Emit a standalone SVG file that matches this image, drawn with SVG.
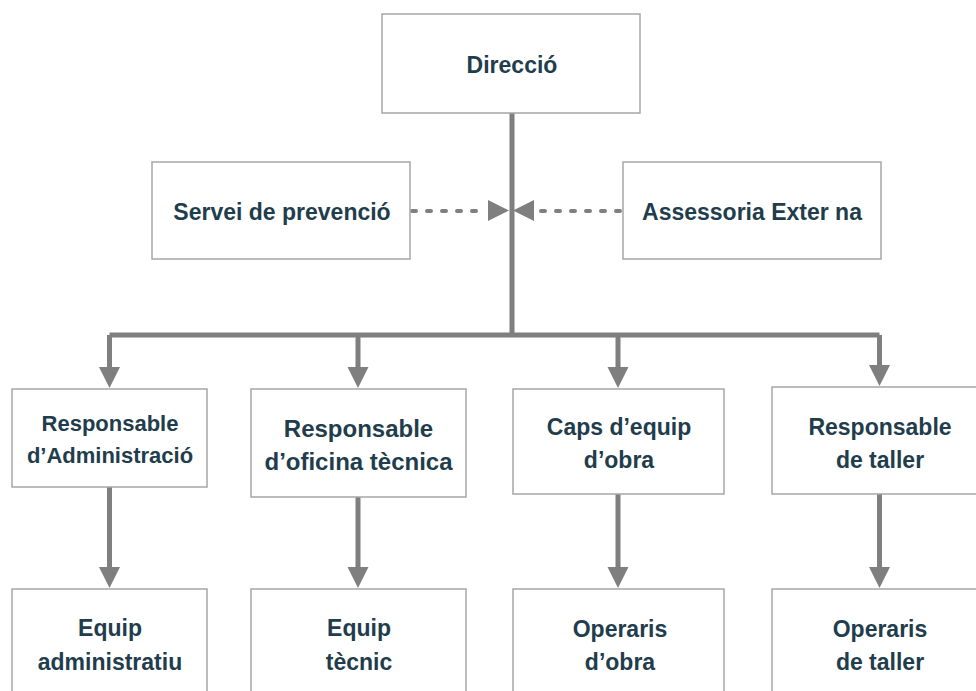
<svg xmlns="http://www.w3.org/2000/svg" width="976" height="691" viewBox="0 0 976 691">
<defs>
<style>
.box{fill:#ffffff;stroke:#a6a6a6;stroke-width:1.5}
.t{font-family:"Liberation Sans",Arial,sans-serif;font-weight:bold;font-size:23px;fill:#1f3d4c;text-anchor:middle}
.s22{font-size:22px}
.s24{font-size:24px}
.solid{fill:none;stroke:#7f7f7f;stroke-width:5}
.dash{fill:none;stroke:#7f7f7f;stroke-width:4;stroke-dasharray:4 11;stroke-linecap:round}
.head{fill:#7f7f7f}
</style>
</defs>
<rect width="976" height="691" fill="#ffffff"/>
<g id="connectors">
<path class="solid" d="M512 113 V335 M109.5 335 H879.5 M109.5 335 V370 M358 335 V370 M618 335 V370 M879.5 335 V368"/>
<polygon class="head" points="99,367 120,367 109.5,388"/>
<polygon class="head" points="347.5,367 368.5,367 358,388"/>
<polygon class="head" points="607.5,367 628.5,367 618,388"/>
<polygon class="head" points="869,365 890,365 879.5,386"/>
<path class="solid" d="M109.5 487 V569 M358 497 V569 M618 494 V569 M879.5 494 V569"/>
<polygon class="head" points="99,567 120,567 109.5,588"/>
<polygon class="head" points="347.5,567 368.5,567 358,588"/>
<polygon class="head" points="607.5,567 628.5,567 618,588"/>
<polygon class="head" points="869,567 890,567 879.5,588"/>
<path class="dash" d="M412 211 H482"/>
<polygon class="head" points="488,200 488,221 509,210.5"/>
<path class="dash" d="M620 211 H540"/>
<polygon class="head" points="534,200 534,221 513,210.5"/>
</g>
<g id="direccio"><rect class="box" x="382" y="14" width="258" height="99"/><text class="t" x="512" y="73">Direcció</text></g>
<g id="servei"><rect class="box" x="152" y="162" width="258" height="97"/><text class="t" x="282" y="220">Servei de prevenció</text></g>
<g id="assessoria"><rect class="box" x="623" y="162" width="258" height="97"/><text class="t" x="752" y="220">Assessoria Exter na</text></g>
<g id="resp-admin"><rect class="box" x="12" y="389" width="195" height="98"/><text class="t s22" x="110" y="431">Responsable</text><text class="t s22" x="110" y="463">d’Administració</text></g>
<g id="resp-oficina"><rect class="box" x="251" y="389" width="215" height="108"/><text class="t s24" x="358.5" y="437">Responsable</text><text class="t s24" x="358.5" y="470">d’oficina tècnica</text></g>
<g id="caps-equip"><rect class="box" x="513" y="389" width="211" height="105"/><text class="t" x="619" y="435">Caps d’equip</text><text class="t" x="619" y="468">d’obra</text></g>
<g id="resp-taller"><rect class="box" x="772" y="387" width="216" height="107"/><text class="t" x="880" y="435">Responsable</text><text class="t" x="880" y="468">de taller</text></g>
<g id="equip-admin"><rect class="box" x="12" y="589" width="195" height="120"/><text class="t" x="110" y="636">Equip</text><text class="t" x="110" y="670">administratiu</text></g>
<g id="equip-tecnic"><rect class="box" x="251" y="589" width="215" height="120"/><text class="t" x="359" y="636">Equip</text><text class="t" x="359" y="670">tècnic</text></g>
<g id="operaris-obra"><rect class="box" x="513" y="589" width="211" height="120"/><text class="t" x="620" y="637">Operaris</text><text class="t" x="620" y="670">d’obra</text></g>
<g id="operaris-taller"><rect class="box" x="772" y="589" width="216" height="120"/><text class="t" x="880" y="637">Operaris</text><text class="t" x="880" y="670">de taller</text></g>
</svg>
